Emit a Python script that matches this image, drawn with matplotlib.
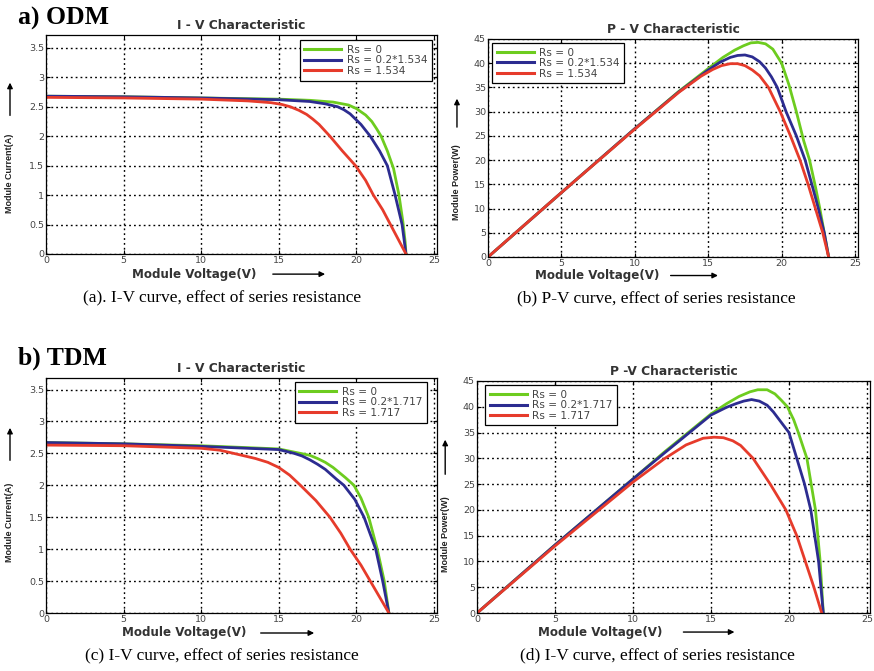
import matplotlib.pyplot as plt

plt.rcParams['font.family'] = ['DejaVu Sans']

GREEN = '#6dcc1f'
BLUE = '#2c2c90'
RED = '#e63b2b'
SERIF = ['Liberation Serif', 'DejaVu Serif']

# ---- ODM, I-V ----
odm_iv_green_v = [0, 5, 10, 15, 17, 18.5, 19.5, 20.0, 20.6, 21.0, 21.3, 21.6, 22.0, 22.4, 22.75, 23.0, 23.15, 23.2]
odm_iv_green_i = [2.68, 2.67, 2.65, 2.63, 2.61, 2.58, 2.53, 2.47, 2.36, 2.25, 2.13, 2.0, 1.75, 1.45, 1.0, 0.55, 0.2, 0.0]
odm_iv_blue_v = [0, 5, 10, 15, 17, 18.0, 18.8, 19.2, 19.6, 20.3, 20.9, 21.5, 22.0, 22.5, 22.95, 23.2]
odm_iv_blue_i = [2.68, 2.67, 2.65, 2.62, 2.59, 2.55, 2.5, 2.45, 2.38, 2.2, 2.0, 1.75, 1.5, 1.0, 0.5, 0.0]
odm_iv_red_v = [0, 5, 10, 13, 14.5, 15.2, 15.75, 16.3, 16.8, 17.2, 17.6, 18.3, 19.1, 19.95, 20.6, 21.1, 21.7, 22.2, 22.7, 23.2]
odm_iv_red_i = [2.66, 2.65, 2.63, 2.6, 2.57, 2.54, 2.5, 2.44, 2.37, 2.29, 2.2, 2.0, 1.75, 1.5, 1.25, 1.0, 0.75, 0.5, 0.25, 0.0]

# ---- ODM, P-V ----
odm_pv_green_v = [0, 5, 10, 13, 15, 16.0, 16.8, 17.4, 17.9, 18.4, 18.9, 19.4, 20.0, 20.5, 21.0, 21.5, 21.9, 22.3, 22.6, 22.9, 23.2]
odm_pv_green_p = [0, 13.3, 26.5, 34.2, 38.9, 41.2, 42.7, 43.6, 44.2, 44.3, 44.0, 42.9, 40.0, 35.5, 30.0, 24.0, 20.0, 14.5, 10.0, 5.0, 0]
odm_pv_blue_v = [0, 5, 10, 13, 15, 15.8, 16.5, 17.0, 17.5, 18.0, 18.5, 18.9, 19.3, 19.7, 20.3, 21.0, 21.6, 22.1, 22.5, 22.9, 23.2]
odm_pv_blue_p = [0, 13.3, 26.5, 34.1, 38.6, 40.2, 41.2, 41.6, 41.7, 41.3, 40.3, 39.0, 37.2, 35.0, 30.0, 25.0, 20.0, 14.5, 10.0, 5.0, 0]
odm_pv_red_v = [0, 5, 10, 13, 14.5, 15.3, 15.9, 16.5, 17.0, 17.5, 18.0, 18.5, 19.1, 19.9, 20.6, 21.25, 21.8, 22.3, 22.8, 23.2]
odm_pv_red_p = [0, 13.3, 26.4, 34.0, 37.3, 38.7, 39.5, 39.9, 39.9, 39.5, 38.6, 37.4, 35.0, 30.0, 25.0, 20.0, 15.0, 10.0, 5.0, 0]

# ---- TDM, I-V ----
tdm_iv_green_v = [0, 5, 10, 15, 16.4, 17.0, 17.5, 18.0, 18.5, 19.0, 19.3, 19.85, 20.3, 20.8, 21.35, 21.8, 22.1]
tdm_iv_green_i = [2.67, 2.65, 2.62, 2.57, 2.5, 2.47, 2.42, 2.36, 2.28, 2.18, 2.12, 2.0, 1.8, 1.5, 1.0, 0.5, 0.0]
tdm_iv_blue_v = [0, 5, 10, 15, 16.0, 16.5, 17.0, 17.5, 18.0, 18.7, 19.2, 19.9, 20.5, 21.25, 21.7, 22.1]
tdm_iv_blue_i = [2.67, 2.65, 2.61, 2.56, 2.5, 2.46, 2.4, 2.33, 2.25, 2.1, 2.0, 1.78, 1.5, 1.0, 0.5, 0.0]
tdm_iv_red_v = [0, 5, 10, 11.2, 12.1, 13.5, 14.3, 15.0, 15.7, 16.4, 17.4, 18.3, 19.0, 19.6, 20.3, 20.9, 21.5, 22.1]
tdm_iv_red_i = [2.63, 2.62, 2.58, 2.55, 2.5, 2.42, 2.36, 2.28, 2.16, 2.0, 1.76, 1.5, 1.25, 1.0, 0.75, 0.5, 0.25, 0.0]

# ---- TDM, P-V ----
tdm_pv_green_v = [0, 5, 10, 12, 15, 16.0, 16.8, 17.5, 18.0, 18.6, 19.1, 19.5, 19.9, 20.3, 20.6, 21.15, 21.7, 22.0, 22.2]
tdm_pv_green_p = [0, 13.2, 26.0, 31.2, 38.6, 40.6, 42.0, 42.9, 43.3, 43.3, 42.5, 41.3, 40.0, 37.5, 35.0, 30.0, 20.0, 10.0, 0]
tdm_pv_blue_v = [0, 5, 10, 12, 15, 16.0, 16.6, 17.1, 17.6, 18.1, 18.6, 19.0, 19.5, 20.0, 20.5, 21.0, 21.4, 21.9, 22.2]
tdm_pv_blue_p = [0, 13.2, 26.0, 31.0, 38.4, 39.9, 40.6, 41.1, 41.4, 41.1, 40.3, 39.0, 37.0, 35.0, 30.0, 25.0, 20.0, 10.0, 0]
tdm_pv_red_v = [0, 5, 10, 12, 13.4, 14.5, 15.2, 15.8, 16.4, 16.9, 17.7, 18.8, 19.8, 20.5, 21.05, 21.6, 22.1]
tdm_pv_red_p = [0, 13.0, 25.4, 29.9, 32.6, 33.9, 34.1, 34.0, 33.4, 32.5, 30.0, 25.0, 20.0, 15.0, 10.0, 5.0, 0]

odm_labels = ['Rs = 0', 'Rs = 0.2*1.534', 'Rs = 1.534']
tdm_labels = ['Rs = 0', 'Rs = 0.2*1.717', 'Rs = 1.717']
iv_yticks = [0, 0.5, 1, 1.5, 2, 2.5, 3, 3.5]
pv_yticks = [0, 5, 10, 15, 20, 25, 30, 35, 40, 45]
xticks = [0, 5, 10, 15, 20, 25]


def draw_panel(ax, curves, labels, title, ylabel, ylim, yticks,
               leg_loc, leg_anchor, xl, yl):
    for (v, y), c in zip(curves, [GREEN, BLUE, RED]):
        ax.plot(v, y, color=c, lw=2.0, solid_joinstyle='round')
    ax.set_xlim(0, 25.2)
    ax.set_ylim(*ylim)
    ax.set_xticks(xticks)
    ax.set_yticks(yticks)
    ax.set_yticklabels([('%g' % t) for t in yticks])
    ax.grid(True, color='k', linestyle=(0, (1.3, 2.2)), linewidth=1.0)
    ax.tick_params(direction='in', top=True, right=True, length=3,
                   labelsize=6.8, labelcolor='#444', pad=1.5)
    for s in ax.spines.values():
        s.set_linewidth(0.9)
    ax.set_title(title, fontsize=8.8, fontweight='bold', color='#333', pad=4)

    leg = ax.legend(labels, loc=leg_loc, bbox_to_anchor=leg_anchor,
                    borderaxespad=0, fontsize=7.6, handlelength=3.5,
                    labelspacing=0.05, fancybox=False, framealpha=1,
                    edgecolor='k', borderpad=0.45, handletextpad=0.5)
    leg.get_frame().set_linewidth(0.9)
    for t in leg.get_texts():
        t.set_color('#444')
    for h in leg.get_lines():
        h.set_linewidth(2.2)

    # x label with arrow
    xs, a0, a1, yy = xl
    ax.text(xs, yy, 'Module Voltage(V)', transform=ax.transAxes, fontsize=8.6,
            fontweight='bold', color='#333', ha='left', va='center')
    ax.annotate('', xy=(a1, yy), xytext=(a0, yy), xycoords='axes fraction',
                annotation_clip=False,
                arrowprops=dict(arrowstyle='-|>', color='k', lw=1.0,
                                mutation_scale=8))
    # y label with arrow
    xx, yb, b0, b1 = yl
    ax.text(xx, yb, ylabel, transform=ax.transAxes, fontsize=6.5,
            fontweight='bold', color='#222', rotation=90,
            family=['Liberation Sans'], ha='center', va='bottom')
    ax.annotate('', xy=(xx, b1), xytext=(xx, b0), xycoords='axes fraction',
                annotation_clip=False,
                arrowprops=dict(arrowstyle='-|>', color='k', lw=1.0,
                                mutation_scale=8))


fig = plt.figure(figsize=(8.74, 6.71), dpi=100)

ax_a = fig.add_axes([0.0526, 0.6215, 0.4474, 0.3264])
ax_b = fig.add_axes([0.5584, 0.6170, 0.4233, 0.3249])
ax_c = fig.add_axes([0.0526, 0.0864, 0.4474, 0.3502])
ax_d = fig.add_axes([0.5458, 0.0864, 0.4497, 0.3458])

draw_panel(ax_a,
           [(odm_iv_green_v, odm_iv_green_i), (odm_iv_blue_v, odm_iv_blue_i),
            (odm_iv_red_v, odm_iv_red_i)],
           odm_labels, 'I - V Characteristic', 'Module Current(A)',
           (0, 3.72), iv_yticks, 'upper right', (0.987, 0.977),
           (0.22, 0.573, 0.721, -0.092), (-0.092, 0.187, 0.62, 0.795))
draw_panel(ax_b,
           [(odm_pv_green_v, odm_pv_green_p), (odm_pv_blue_v, odm_pv_blue_p),
            (odm_pv_red_v, odm_pv_red_p)],
           odm_labels, 'P - V Characteristic', 'Module Power(W)',
           (0, 45), pv_yticks, 'upper left', (0.011, 0.982),
           (0.127, 0.486, 0.629, -0.085), (-0.084, 0.17, 0.583, 0.739))
draw_panel(ax_c,
           [(tdm_iv_green_v, tdm_iv_green_i), (tdm_iv_blue_v, tdm_iv_blue_i),
            (tdm_iv_red_v, tdm_iv_red_i)],
           tdm_labels, 'I - V Characteristic', 'Module Current(A)',
           (0, 3.68), iv_yticks, 'upper right', (0.974, 0.983),
           (0.194, 0.542, 0.693, -0.085), (-0.092, 0.217, 0.638, 0.80))
draw_panel(ax_d,
           [(tdm_pv_green_v, tdm_pv_green_p), (tdm_pv_blue_v, tdm_pv_blue_p),
            (tdm_pv_red_v, tdm_pv_red_p)],
           tdm_labels, 'P -V Characteristic', 'Module Power(W)',
           (0, 45), pv_yticks, 'upper left', (0.02, 0.983),
           (0.155, 0.518, 0.662, -0.082), (-0.081, 0.177, 0.586, 0.759))

# section headings
fig.text(18 / 874, 1 - 25 / 671, 'a) ODM', family=SERIF, fontsize=18.5,
         fontweight='bold', va='baseline')
fig.text(18 / 874, 1 - 365 / 671, 'b) TDM', family=SERIF, fontsize=18.5,
         fontweight='bold', va='baseline')

# captions
fig.text(222 / 874, 1 - 302 / 671, '(a). I-V curve, effect of series resistance',
         family=SERIF, fontsize=12.5, ha='center', va='baseline')
fig.text(656 / 874, 1 - 302 / 671, '(b) P-V curve, effect of series resistance',
         family=SERIF, fontsize=12.5, ha='center', va='baseline')
fig.text(222 / 874, 1 - 660 / 671, '(c) I-V curve, effect of series resistance',
         family=SERIF, fontsize=12.5, ha='center', va='baseline')
fig.text(657 / 874, 1 - 659 / 671, '(d) I-V curve, effect of series resistance',
         family=SERIF, fontsize=12.5, ha='center', va='baseline')

fig.savefig('out.png', dpi=100)
